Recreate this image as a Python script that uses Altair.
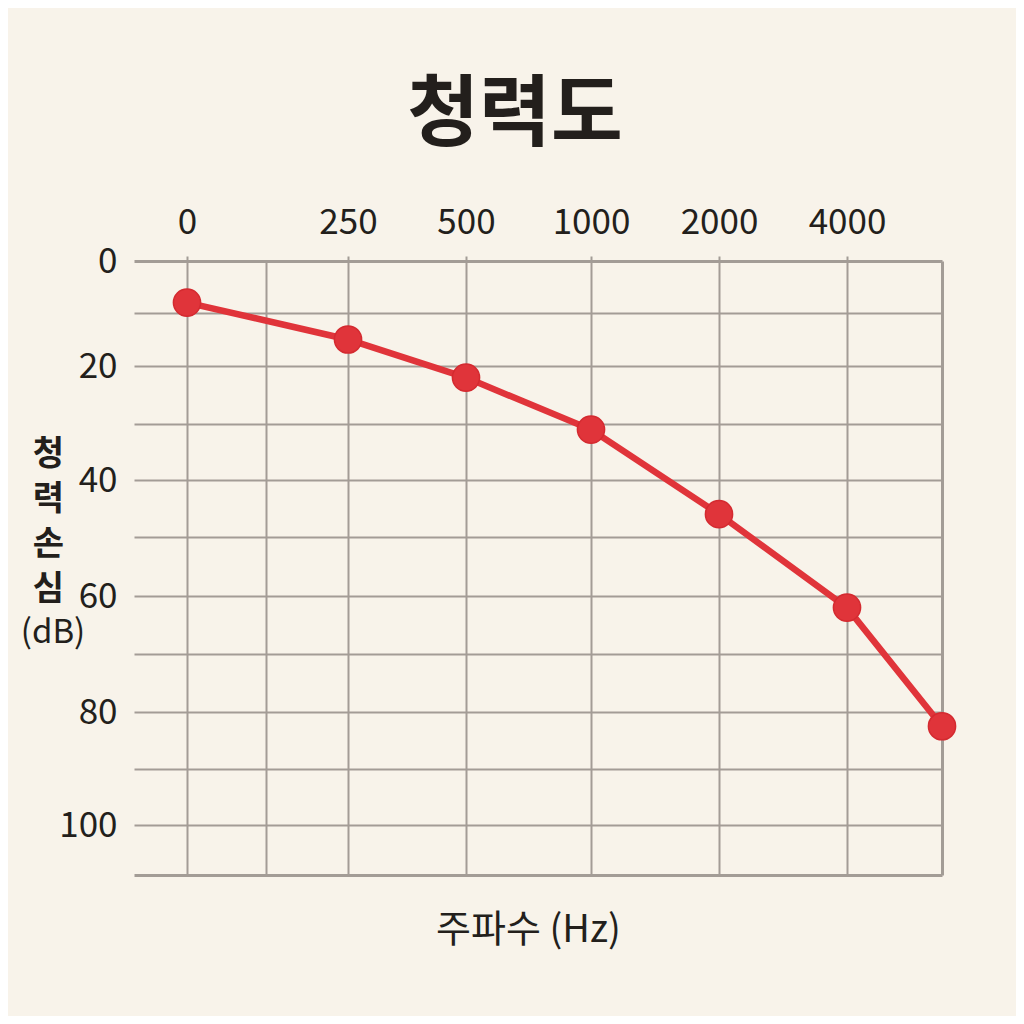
import altair as alt
import pandas as pd

# ---- data ----
freq_hz = [0, 250, 500, 1000, 2000, 4000, 8000]
loss_db = [8, 15, 22, 31, 46, 62, 82.5]

x_label_values = [0, 250, 500, 1000, 2000, 4000]
x_grid_values = [0, 125, 250, 500, 1000, 2000, 4000, 8000]
y_grid_values = [0, 10, 20, 30, 40, 50, 60, 70, 80, 90, 100, 110]

df = pd.DataFrame({"freq": freq_hz, "loss": loss_db})

FONT = "Noto Sans CJK KR"
GRID = "#a39c96"
RED = "#e0343a"
TEXT = "#231f1c"
BG = "#f8f3ea"

# piecewise scales that follow the uneven grid of the reference
x_scale = alt.Scale(
    domain=[-125] + x_grid_values,
    range=[0, 53, 132, 214, 332, 457, 585, 713, 808],
    nice=False,
    zero=False,
)
y_scale = alt.Scale(
    domain=y_grid_values,
    range=[0, 52, 105, 163, 219, 276, 335, 393, 451, 508, 564, 614],
    nice=False,
    zero=False,
)

top_axis = alt.Axis(
    orient="top",
    values=x_grid_values,
    format="d",
    labelExpr="(datum.value == 125 || datum.value == 8000) ? '' : datum.label",
    labelFont=FONT,
    labelFontSize=35,
    labelColor=TEXT,
    labelPadding=16,
    labelFlush=False,
    labelOverlap=False,
    tickSize=5,
    tickWidth=2,
    tickColor=GRID,
    tickOpacity={"condition": {"test": "datum.value == 125 || datum.value == 8000", "value": 0}, "value": 1},
    grid=True,
    gridColor=GRID,
    gridOpacity=1,
    gridWidth={"condition": {"test": "datum.value == 8000", "value": 3}, "value": 2},
    domain=False,
    title=None,
)

bottom_axis = alt.Axis(
    orient="bottom",
    labels=False,
    ticks=False,
    domain=False,
    grid=False,
    title="주파수 (Hz)",
    titleFont=FONT,
    titleFontSize=38,
    titleFontWeight="normal",
    titleColor=TEXT,
    titlePadding=36,
    titleX=394,
    titleAlign="center",
)

left_axis = alt.Axis(
    orient="left",
    values=y_grid_values,
    labelExpr="(datum.value % 20 == 0 && datum.value <= 100) ? datum.label : ''",
    labelFont=FONT,
    labelFontSize=35,
    labelColor=TEXT,
    labelPadding=17,
    labelFlush=False,
    labelOverlap=False,
    ticks=False,
    grid=True,
    gridColor=GRID,
    gridOpacity=1,
    gridWidth={"condition": {"test": "datum.value == 0 || datum.value == 110", "value": 3}, "value": 2},
    domain=False,
    title=["청", "력", "손", "심"],
    titleFont=FONT,
    titleFontSize=34,
    titleFontWeight="bold",
    titleColor=TEXT,
    titleAngle=0,
    titleLineHeight=45,
    titleAlign="center",
    titleBaseline="top",
    titleX=-86,
    titleY=176,
)

base = alt.Chart(df)

line = base.mark_line(color=RED, strokeWidth=6.5).encode(
    x=alt.X("freq:Q", scale=x_scale, axis=top_axis),
    y=alt.Y("loss:Q", scale=y_scale, axis=left_axis),
)

points = base.mark_circle(
    size=740, color=RED, opacity=1, stroke="#d42a30", strokeWidth=1.5
).encode(
    x=alt.X("freq:Q", scale=x_scale, axis=bottom_axis),
    y=alt.Y("loss:Q", scale=y_scale, axis=left_axis),
)

unit = alt.Chart(pd.DataFrame({"t": ["(dB)"]})).mark_text(
    font=FONT, fontSize=33, color=TEXT, align="center", baseline="middle"
).encode(
    text="t:N",
    x=alt.value(-81),
    y=alt.value(372),
)

chart = (
    alt.layer(line, points, unit)
    .resolve_axis(x="independent")
    .properties(
        width=808,
        height=614,
        autosize=alt.AutoSizeParams(type="none"),
        padding={"left": 126, "top": 253, "right": 74, "bottom": 141},
        background=BG,
        title=alt.TitleParams(
            "청력도",
            font=FONT,
            fontSize=78,
            fontWeight="bold",
            color=TEXT,
            anchor="middle",
            dx=-23,
            offset=49,
        ),
    )
    .configure_view(stroke="transparent")
)

chart.save("out.html", embed_options={"renderer": "svg", "actions": False})
